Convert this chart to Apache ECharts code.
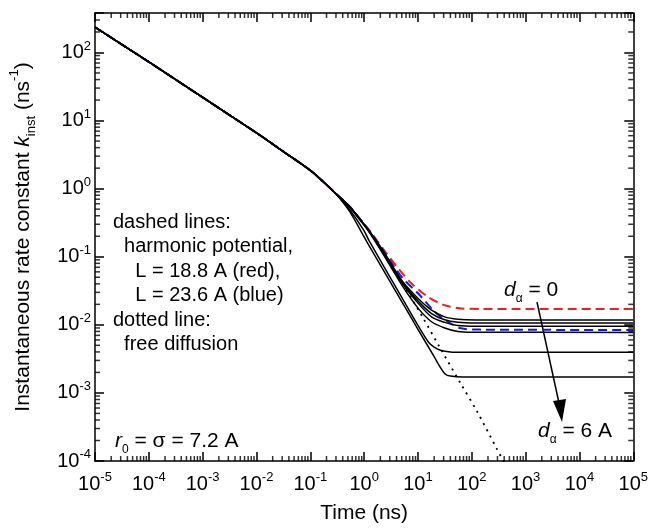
<!DOCTYPE html>
<html>
<head>
<meta charset="utf-8">
<script src="https://cdn.jsdelivr.net/npm/echarts@6/dist/echarts.min.js"></script>
<style>
html, body { margin: 0; padding: 0; background: #fff; }
#main { width: 651px; height: 529px; }
</style>
</head>
<body>
<div id="main"></div>
<script>
var chartDom = document.getElementById('main');
var myChart = echarts.init(chartDom);
var option;

// time in ns, rate in ns^-1
var early = [[1e-5, 235], [1e-4, 72.6], [1e-3, 21.9], [1e-2, 6.6], [0.0325, 3.45], [0.1, 1.85], [0.2, 1.14]];

// solid lines, d_alpha = 0 ... 6 A (top to bottom)
var solidTails = [
    [[0.3, 0.843], [0.54, 0.542], [1, 0.30], [1.25, 0.24], [2.18, 0.128], [5.06, 0.0445], [10.2, 0.0241], [17.9, 0.0164], [31.4, 0.0131], [55, 0.0121], [120, 0.0118], [1e5, 0.0118]],
    [[0.3, 0.843], [0.54, 0.542], [1, 0.298], [1.25, 0.237], [2.18, 0.124], [5.06, 0.043], [10.2, 0.0221], [17.9, 0.01466], [31.4, 0.01186], [55, 0.0109], [120, 0.01065], [1e5, 0.01065]],
    [[0.3, 0.843], [0.54, 0.54], [1, 0.295], [1.25, 0.233], [2.18, 0.12], [5.06, 0.041], [10.2, 0.0205], [17.9, 0.0131], [31.4, 0.01086], [55, 0.0098], [120, 0.00955], [1e5, 0.00955]],
    [[0.3, 0.843], [0.54, 0.535], [1, 0.29], [1.25, 0.228], [2.18, 0.114], [5.06, 0.038], [10.2, 0.0173], [17.9, 0.0111], [31.4, 0.0090], [55, 0.0080], [100, 0.0078], [1e5, 0.00774]],
    [[0.3, 0.84], [0.54, 0.49], [1, 0.24], [1.25, 0.169], [5, 0.0252], [10, 0.0098], [15.6, 0.0056], [20, 0.0047], [27, 0.0042], [40, 0.0040], [70, 0.00395], [1e5, 0.00395]],
    [[0.3, 0.835], [0.54, 0.46], [1, 0.195], [1.25, 0.143], [5, 0.022], [10, 0.0086], [20, 0.0034], [25, 0.0025], [32, 0.0019], [40, 0.00177], [70, 0.00172], [1e5, 0.00172]]
];

// harmonic potential, L = 18.8 A (red) and L = 23.6 A (blue)
var redTail = [[0.3, 0.843], [0.54, 0.542], [1, 0.30], [1.25, 0.245], [2.18, 0.135], [4.4, 0.066], [7.7, 0.040], [15.6, 0.0255], [31.4, 0.0194], [63, 0.0174], [150, 0.0171], [1e5, 0.0171]];
var blueTail = [[0.3, 0.843], [0.54, 0.542], [1, 0.30], [1.25, 0.24], [2.18, 0.128], [5.06, 0.0497], [10.2, 0.0286], [20.6, 0.0155], [36, 0.0111], [63, 0.0089], [150, 0.0085], [1e5, 0.00841]];

// free diffusion
var freeTail = [[0.3, 0.843], [0.54, 0.54], [1, 0.30], [2.18, 0.122], [5.06, 0.042], [12.6, 0.0124], [25.4, 0.00467], [63, 0.00135], [127, 5.24e-4], [295, 1.49e-4], [400, 9.5e-5]];

var X_MIN = 1e-5, X_MAX = 1e5, Y_MIN = 1e-4, Y_MAX = 380;
var FONT = '"Liberation Sans", Arial, sans-serif';

// minor tick positions 2..9 of each decade
var xMinor = [], yMinor = [];
for (var e = -5; e < 5; e++) {
    for (var m = 2; m <= 9; m++) xMinor.push(m * Math.pow(10, e));
}
for (var e2 = -4; e2 < 3; e2++) {
    for (var m2 = 2; m2 <= 9; m2++) {
        var v = m2 * Math.pow(10, e2);
        if (v < Y_MAX) yMinor.push(v);
    }
}

function powLabel(v) {
    var e = Math.log10(v);
    var r = Math.round(e);
    if (Math.abs(e - r) > 1e-3) return '';
    return '10{sup|' + r + '}';
}

var labelStyle = {
    fontFamily: FONT,
    fontSize: 20,
    color: '#000',
    lineHeight: 26,
    formatter: powLabel,
    rich: {
        sup: { fontFamily: FONT, fontSize: 13, lineHeight: 13, verticalAlign: 'top', color: '#000' }
    }
};

function logAxis(pos, lo, hi, showLabel, margin) {
    return {
        type: 'log',
        position: pos,
        min: lo,
        max: hi,
        interval: 1,
        axisLine: { show: true, lineStyle: { color: '#000', width: 1.5 } },
        axisTick: { show: true, inside: true, length: 9, lineStyle: { color: '#000', width: 1.5 } },
        minorTick: { show: false },
        splitLine: { show: false },
        axisLabel: showLabel ? Object.assign({ margin: margin }, labelStyle) : { show: false }
    };
}

// short inward minor ticks drawn as thin rect symbols on the frame
function minorTicks(points, size, offset) {
    return {
        type: 'scatter',
        silent: true,
        clip: false,
        z: 5,
        symbol: 'rect',
        symbolSize: size,
        symbolOffset: offset,
        itemStyle: { color: '#000' },
        data: points
    };
}

var series = [];
series.push({
    name: 'L = 18.8 A',
    type: 'line',
    data: early.concat(redTail),
    showSymbol: false,
    smooth: 0.3,
    lineStyle: { color: '#e8202a', width: 2, type: [9, 5] }
});
series.push({
    name: 'L = 23.6 A',
    type: 'line',
    data: early.concat(blueTail),
    showSymbol: false,
    smooth: 0.3,
    lineStyle: { color: '#1a1ad4', width: 2, type: [9, 5] }
});
solidTails.forEach(function (tail, i) {
    series.push({
        name: 'solid' + i,
        type: 'line',
        data: early.concat(tail),
        showSymbol: false,
        smooth: 0.3,
        lineStyle: { color: '#000', width: 1.5 }
    });
});
series.push({
    name: 'free diffusion',
    type: 'line',
    data: early.concat(freeTail),
    showSymbol: false,
    smooth: 0.3,
    lineStyle: { color: '#000', width: 1.8, type: [2, 5] }
});
series.push(minorTicks(xMinor.map(function (t) { return [t, Y_MIN]; }), [1.5, 5], [0, -2.5]));
series.push(minorTicks(xMinor.map(function (t) { return [t, Y_MAX]; }), [1.5, 5], [0, 2.5]));
series.push(minorTicks(yMinor.map(function (k) { return [X_MIN, k]; }), [5, 1.5], [2.5, 0]));
series.push(minorTicks(yMinor.map(function (k) { return [X_MAX, k]; }), [5, 1.5], [-2.5, 0]));

var xTop = logAxis('top', X_MIN, X_MAX, false);
var xBottom = logAxis('bottom', X_MIN, X_MAX, true, 10);
xBottom.name = 'Time (ns)';
xBottom.nameLocation = 'middle';
xBottom.nameGap = 42;
xBottom.nameTextStyle = { fontFamily: FONT, fontSize: 21, color: '#000' };

var yLeft = logAxis('left', Y_MIN, Y_MAX, true, 4);
yLeft.name = 'Instantaneous rate constant {i|k}{sub|inst} (ns{sup|-1})';
yLeft.nameLocation = 'middle';
yLeft.nameGap = 57;
yLeft.nameTextStyle = {
    fontFamily: FONT, fontSize: 21, color: '#000', lineHeight: 30,
    rich: {
        i: { fontFamily: FONT, fontSize: 21, fontStyle: 'italic', color: '#000', lineHeight: 30 },
        sub: { fontFamily: FONT, fontSize: 13, lineHeight: 13, verticalAlign: 'bottom', color: '#000' },
        sup: { fontFamily: FONT, fontSize: 13, lineHeight: 13, verticalAlign: 'top', color: '#000' }
    }
};
var yRight = logAxis('right', Y_MIN, Y_MAX, false);

var txtRich = {
    i: { fontFamily: FONT, fontSize: 21, fontStyle: 'italic', color: '#000', lineHeight: 30 },
    sub: { fontFamily: FONT, fontSize: 12, lineHeight: 12, verticalAlign: 'bottom', color: '#000' }
};

option = {
    animation: false,
    backgroundColor: '#fff',
    grid: { left: 91, right: 12, top: 13, bottom: 61 },
    xAxis: [xBottom, xTop],
    yAxis: [yLeft, yRight],
    series: series,
    graphic: [
        {
            type: 'text', left: 113, top: 210,
            style: {
                text: 'dashed lines:\n  harmonic potential,\n    L = 18.8 A (red),\n    L = 23.6 A (blue)\ndotted line:\n  free diffusion',
                fontFamily: FONT, fontSize: 20, lineHeight: 24.5, fill: '#000'
            }
        },
        {
            type: 'text', x: 115, y: 441,
            style: { text: '{i|r}{sub|0} = σ = 7.2 A', fontFamily: FONT, fontSize: 21, lineHeight: 30, fill: '#000', verticalAlign: 'middle', rich: txtRich }
        },
        {
            type: 'text', x: 504, y: 290,
            style: { text: '{i|d}{sub|α} = 0', fontFamily: FONT, fontSize: 21, lineHeight: 30, fill: '#000', verticalAlign: 'middle', rich: txtRich }
        },
        {
            type: 'text', x: 538, y: 431,
            style: { text: '{i|d}{sub|α} = 6 A', fontFamily: FONT, fontSize: 21, lineHeight: 30, fill: '#000', verticalAlign: 'middle', rich: txtRich }
        },
        {
            type: 'line',
            shape: { x1: 537, y1: 302, x2: 559, y2: 403 },
            style: { stroke: '#000', lineWidth: 1.5 }
        },
        {
            type: 'polygon',
            shape: { points: [[553, 401], [566, 399], [562, 422]] },
            style: { fill: '#000' }
        }
    ]
};

option && myChart.setOption(option);
</script>
</body>
</html>
